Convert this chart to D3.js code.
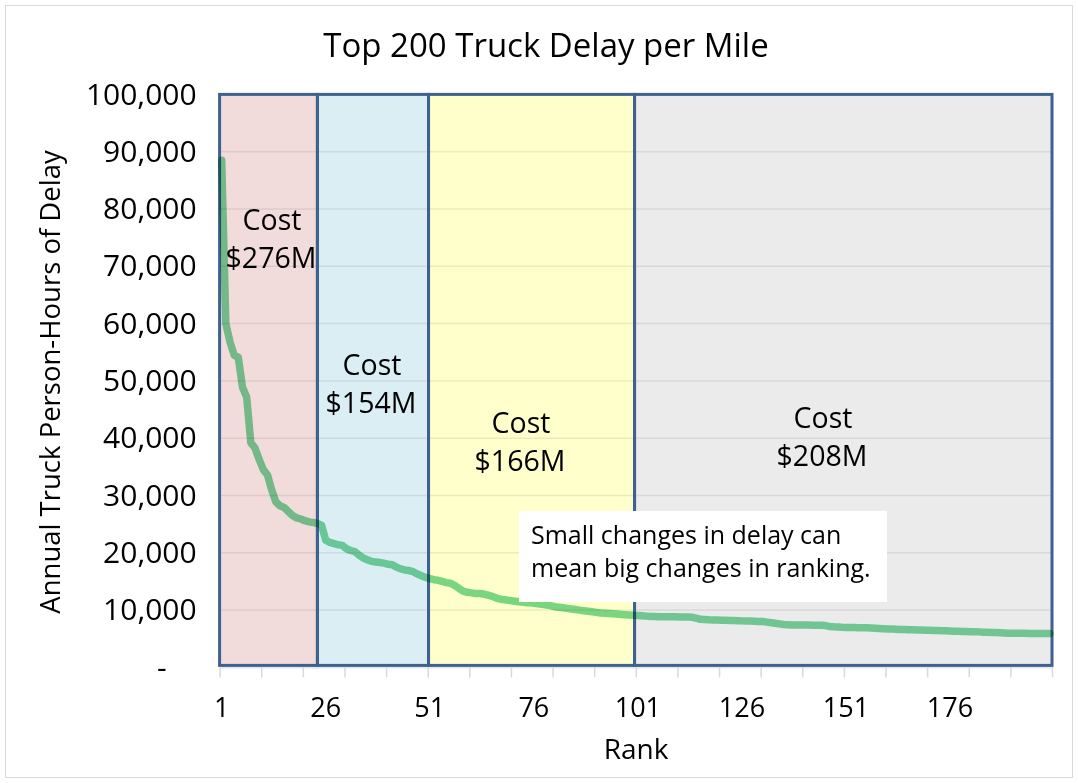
<!DOCTYPE html>
<html>
<head>
<meta charset="utf-8">
<script src="https://cdn.jsdelivr.net/npm/d3@7"></script>
<style>
  body { margin: 0; background: #fff; }
  svg { font-family: "Open Sans", sans-serif; display: block; }
  .axis path, .axis line { stroke: #d9d9d9; }
  .axis text { fill: #000; }
</style>
</head>
<body>
<div id="chart"></div>
<script>
// delay per mile, ranks 1..200 (annual truck person-hours)
const ranks = d3.range(1, 201);
const delay = [
  88500, 60000, 56800, 54500, 54100, 48900, 47200, 39200, 38300, 36300,
  34500, 33600, 31000, 28900, 28200, 27900, 27200, 26500, 26100, 25900,
  25600, 25400, 25300, 25100, 24800, 22200, 21800, 21600, 21400, 21300,
  20700, 20400, 20200, 19600, 19100, 18800, 18500, 18400, 18300, 18200,
  18000, 17900, 17500, 17200, 17000, 16900, 16700, 16300, 16000, 15700,
  15500, 15300, 15200, 15000, 14800, 14700, 14300, 13800, 13300, 13100,
  13000, 12900, 12900, 12800, 12600, 12400, 12100, 11900, 11800, 11700,
  11600, 11500, 11400, 11300, 11300, 11200, 11100, 11000, 10900, 10800,
  10600, 10500, 10400, 10300, 10200, 10100, 10000, 9900, 9800, 9700,
  9600, 9500, 9450, 9400, 9350, 9300, 9250, 9200, 9150, 9100,
  9050, 9000, 8950, 8900, 8880, 8860, 8850, 8840, 8830, 8820,
  8810, 8800, 8780, 8750, 8600, 8400, 8350, 8300, 8280, 8260,
  8240, 8220, 8200, 8180, 8150, 8120, 8100, 8080, 8050, 8020,
  8000, 7900, 7800, 7700, 7600, 7500, 7450, 7400, 7400, 7390,
  7380, 7380, 7370, 7360, 7350, 7300, 7150, 7080, 7050, 7000,
  6980, 6950, 6950, 6940, 6920, 6900, 6880, 6850, 6800, 6760,
  6720, 6690, 6650, 6620, 6600, 6580, 6560, 6540, 6520, 6500,
  6470, 6440, 6420, 6400, 6380, 6350, 6320, 6300, 6280, 6260,
  6240, 6220, 6200, 6150, 6120, 6100, 6070, 6040, 6010, 5980,
  5950, 5950, 5940, 5940, 5930, 5930, 5920, 5920, 5910, 5900
];

// cost zones, edges in rank units
const zoneEdges = [0, 23.5, 50.2, 99.7, 200];
const zoneCosts = ['$276M', '$154M', '$166M', '$208M'];
const zoneFills = ['#f2dcdb', '#dbeef4', '#ffffcc', '#ebebeb'];

const xLabels = [1, 26, 51, 76, 101, 126, 151, 176];
const xTickEdges = d3.range(0, 201, 10);
const yTicks = d3.range(0, 100001, 10000);

const title = 'Top 200 Truck Delay per Mile';
const note = ['Small changes in delay can', 'mean big changes in ranking.'];

const W = 1078, H = 783;
const plotL = 219.6, plotR = 1052, plotT = 94.4, plotB = 667.4;

const svg = d3.select('#chart').append('svg')
  .attr('width', W).attr('height', H);

svg.append('rect')
  .attr('x', 5.5).attr('y', 5.5).attr('width', W - 11).attr('height', H - 11)
  .attr('fill', '#fff').attr('stroke', '#d9d9d9');

const x = d3.scaleBand().domain(ranks).range([plotL, plotR]);
const xEdge = d3.scaleLinear().domain([0, 200]).range([plotL, plotR]);
const y = d3.scaleLinear().domain([0, 100000]).range([plotB, plotT]);

// zone backgrounds
const zones = d3.range(zoneCosts.length).map(i => ({
  x0: zoneEdges[i], x1: zoneEdges[i + 1], fill: zoneFills[i], cost: zoneCosts[i]
}));

svg.append('g').selectAll('rect')
  .data(zones).enter().append('rect')
  .attr('x', d => xEdge(d.x0))
  .attr('y', y(100000))
  .attr('width', d => xEdge(d.x1) - xEdge(d.x0))
  .attr('height', y(0) - y(100000) - 2)
  .attr('fill', d => d.fill);

// gridlines
svg.append('g').selectAll('line')
  .data(yTicks.filter(t => t > 0 && t < 100000)).enter().append('line')
  .attr('x1', plotL).attr('x2', plotR)
  .attr('y1', d => y(d)).attr('y2', d => y(d))
  .attr('stroke', '#000').attr('stroke-opacity', 0.08).attr('stroke-width', 1.5);

// x axis: tick marks at every 10 ranks, labels every 25
svg.append('g')
  .attr('class', 'axis')
  .attr('transform', `translate(0,${plotB})`)
  .call(d3.axisBottom(xEdge).tickValues(xTickEdges).tickFormat('').tickSize(10).tickSizeOuter(0))
  .call(g => g.selectAll('line').attr('stroke-width', 1.5));

svg.append('g')
  .attr('class', 'axis')
  .attr('transform', `translate(0,${plotB})`)
  .call(d3.axisBottom(x).tickValues(xLabels).tickSize(0).tickPadding(30))
  .call(g => g.select('.domain').remove())
  .call(g => g.selectAll('text').attr('font-size', 27).attr('font-family', '"Open Sans", sans-serif'));

// y axis
svg.append('g')
  .attr('class', 'axis')
  .attr('transform', `translate(${plotL},0)`)
  .call(d3.axisLeft(y).tickValues(yTicks).tickSize(0).tickPadding(23)
    .tickFormat(d => d === 0 ? '-' : d3.format(',')(d)))
  .call(g => g.select('.domain').remove())
  .call(g => g.selectAll('text').attr('font-size', 30).attr('font-family', '"Open Sans", sans-serif'))
  .call(g => g.selectAll('.tick').filter(d => d === 0).select('text').attr('dx', -30));

// zone borders
svg.append('g').selectAll('rect')
  .data(zones).enter().append('rect')
  .attr('x', d => xEdge(d.x0))
  .attr('y', y(100000))
  .attr('width', d => xEdge(d.x1) - xEdge(d.x0))
  .attr('height', y(0) - y(100000) - 2)
  .attr('fill', 'none')
  .attr('stroke', '#3d6190').attr('stroke-width', 3);

// delay line
const line = d3.line()
  .x((d, i) => x(ranks[i]) + x.bandwidth() / 2)
  .y(d => y(d))
  .curve(d3.curveLinear);

svg.append('path')
  .datum(delay)
  .attr('d', line)
  .attr('fill', 'none')
  .attr('stroke', '#7ad69e')
  .attr('stroke-width', 7.5)
  .attr('stroke-linejoin', 'round')
  .attr('stroke-linecap', 'round')
  .style('mix-blend-mode', 'multiply');

// zone labels
const labelPos = [[272, 220], [372, 365], [521, 423], [823, 418]];
const zl = svg.append('g').attr('font-size', 28.5).attr('text-anchor', 'middle');
zones.forEach((d, i) => {
  const [lx, ly] = labelPos[i];
  zl.append('text').attr('x', lx).attr('y', ly).attr('dy', '0.35em').text('Cost');
  zl.append('text').attr('x', lx - 1).attr('y', ly + 38).attr('dy', '0.35em').text(d.cost);
});

// note box
svg.append('rect')
  .attr('x', 519).attr('y', 511).attr('width', 368).attr('height', 91)
  .attr('fill', '#fff');
svg.append('g').attr('font-size', 25)
  .selectAll('text').data(note).enter().append('text')
  .attr('x', 531).attr('y', (d, i) => 535 + i * 33).attr('dy', '0.35em')
  .text(d => d);

// titles
svg.append('text')
  .attr('x', 546).attr('y', 45).attr('dy', '0.35em')
  .attr('text-anchor', 'middle').attr('font-size', 33)
  .text(title);

svg.append('text')
  .attr('x', 636).attr('y', 749).attr('dy', '0.35em')
  .attr('text-anchor', 'middle').attr('font-size', 28)
  .text('Rank');

svg.append('text')
  .attr('transform', 'translate(50,382) rotate(-90)')
  .attr('dy', '0.35em')
  .attr('text-anchor', 'middle').attr('font-size', 27.5)
  .text('Annual Truck Person-Hours of Delay');
</script>
</body>
</html>
